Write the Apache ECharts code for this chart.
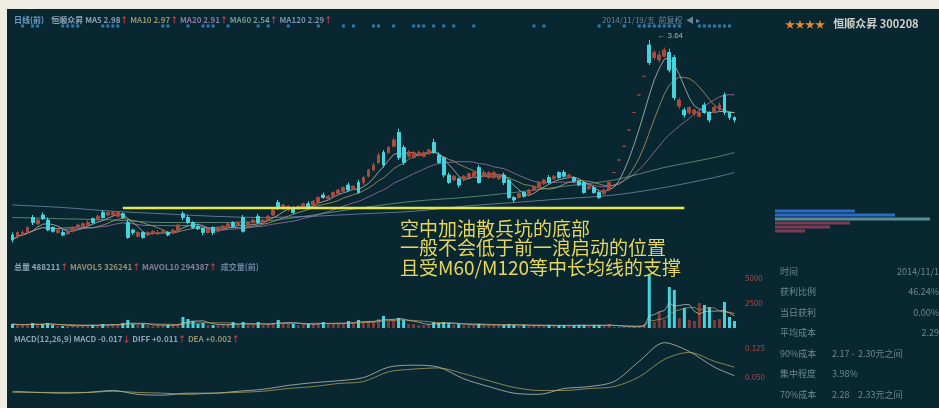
<!DOCTYPE html>
<html><head><meta charset="utf-8">
<script src="https://cdn.jsdelivr.net/npm/echarts@6/dist/echarts.min.js"></script>
<style>html,body{margin:0;padding:0;background:#efece4;}#c{width:939px;height:408px;}</style>
</head><body><div id="c"></div>
<script>
// ---- data ----
// [open, close, low, high]
const candles = [
[2.08,2.04,2.02,2.10],[2.07,2.10,2.05,2.11],[2.08,2.10,2.07,2.12],[2.10,2.14,2.09,2.15],[2.22,2.18,2.16,2.24],
[2.17,2.20,2.16,2.21],[2.24,2.21,2.20,2.26],[2.20,2.12,2.11,2.22],[2.14,2.11,2.10,2.15],[2.10,2.12,2.09,2.13],
[2.10,2.08,2.07,2.12],[2.09,2.11,2.08,2.12],[2.11,2.14,2.10,2.15],[2.14,2.16,2.13,2.17],[2.15,2.17,2.14,2.18],
[2.16,2.18,2.15,2.20],[2.21,2.18,2.17,2.22],[2.20,2.23,2.19,2.24],[2.26,2.22,2.21,2.28],[2.24,2.26,2.23,2.27],
[2.24,2.26,2.23,2.27],[2.23,2.26,2.22,2.27],[2.25,2.22,2.21,2.26],[2.18,2.06,2.05,2.20],[2.12,2.10,2.08,2.13],
[2.07,2.10,2.06,2.11],[2.10,2.06,2.05,2.11],[2.08,2.10,2.07,2.11],[2.09,2.11,2.08,2.12],[2.09,2.10,2.08,2.12],
[2.10,2.11,2.09,2.12],[2.10,2.08,2.07,2.11],[2.10,2.12,2.09,2.13],[2.12,2.16,2.11,2.17],[2.25,2.22,2.20,2.27],
[2.22,2.18,2.17,2.24],[2.18,2.14,2.13,2.19],[2.15,2.13,2.12,2.16],[2.13,2.10,2.08,2.14],[2.10,2.13,2.09,2.14],
[2.14,2.10,2.08,2.15],[2.11,2.14,2.10,2.15],[2.13,2.15,2.12,2.16],[2.14,2.17,2.13,2.18],[2.18,2.15,2.14,2.19],
[2.16,2.18,2.15,2.19],[2.22,2.11,2.10,2.24],[2.15,2.18,2.14,2.19],[2.18,2.20,2.17,2.21],[2.23,2.18,2.17,2.25],
[2.18,2.20,2.17,2.21],[2.20,2.23,2.19,2.24],[2.24,2.28,2.23,2.29],[2.34,2.30,2.28,2.36],[2.29,2.32,2.28,2.33],
[2.28,2.31,2.27,2.32],[2.30,2.26,2.25,2.31],[2.29,2.31,2.28,2.32],[2.30,2.33,2.29,2.34],[2.33,2.30,2.29,2.35],
[2.32,2.35,2.31,2.36],[2.34,2.38,2.33,2.39],[2.40,2.38,2.37,2.42],[2.37,2.39,2.36,2.40],[2.39,2.42,2.38,2.43],
[2.41,2.44,2.40,2.45],[2.43,2.46,2.42,2.47],[2.48,2.44,2.43,2.50],[2.45,2.47,2.44,2.48],[2.50,2.42,2.41,2.52],
[2.50,2.54,2.48,2.55],[2.55,2.60,2.54,2.61],[2.60,2.64,2.59,2.66],[2.66,2.72,2.65,2.74],[2.74,2.64,2.62,2.76],
[2.74,2.78,2.73,2.79],[2.79,2.84,2.78,2.86],[2.90,2.70,2.68,2.93],[2.78,2.66,2.64,2.80],[2.71,2.74,2.70,2.76],
[2.70,2.74,2.69,2.75],[2.72,2.74,2.71,2.76],[2.71,2.74,2.70,2.75],[2.73,2.76,2.72,2.77],[2.82,2.74,2.73,2.85],
[2.72,2.66,2.65,2.74],[2.70,2.56,2.54,2.71],[2.56,2.50,2.49,2.58],[2.52,2.55,2.51,2.56],[2.53,2.48,2.46,2.54],
[2.52,2.55,2.51,2.56],[2.54,2.57,2.53,2.58],[2.55,2.58,2.54,2.60],[2.62,2.50,2.49,2.64],[2.55,2.58,2.54,2.60],
[2.54,2.58,2.53,2.59],[2.54,2.58,2.53,2.59],[2.53,2.56,2.52,2.57],[2.56,2.50,2.48,2.58],[2.52,2.38,2.37,2.53],
[2.38,2.36,2.34,2.39],[2.38,2.41,2.37,2.42],[2.42,2.39,2.38,2.43],[2.41,2.44,2.40,2.45],[2.44,2.47,2.43,2.48],
[2.46,2.50,2.45,2.51],[2.49,2.52,2.48,2.53],[2.54,2.50,2.49,2.56],[2.53,2.55,2.52,2.56],[2.58,2.54,2.53,2.59],
[2.58,2.55,2.54,2.60],[2.54,2.56,2.53,2.57],[2.54,2.51,2.50,2.55],[2.51,2.48,2.47,2.52],[2.50,2.42,2.41,2.51],
[2.45,2.47,2.44,2.48],[2.46,2.42,2.41,2.47],[2.42,2.38,2.37,2.43],[2.41,2.44,2.40,2.45],[2.44,2.50,2.43,2.51],
[2.58,2.58,2.58,2.58],[2.68,2.68,2.68,2.68],[2.79,2.79,2.79,2.79],[2.92,2.92,2.92,2.92],[3.06,3.06,3.06,3.06],
[3.20,3.20,3.20,3.20],[3.35,3.35,3.35,3.35],[3.60,3.46,3.44,3.64],[3.50,3.54,3.48,3.56],[3.48,3.52,3.46,3.55],
[3.51,3.56,3.50,3.58],[3.54,3.40,3.38,3.57],[3.50,3.18,3.16,3.52],[3.11,3.16,3.09,3.18],[3.08,3.04,3.02,3.10],
[3.06,3.10,3.04,3.11],[3.05,3.08,3.03,3.09],[3.03,3.06,3.02,3.08],[3.12,3.06,3.05,3.14],[3.06,3.00,2.98,3.07],
[3.06,3.10,3.05,3.11],[3.08,3.12,3.07,3.14],[3.20,3.06,3.04,3.22],[3.06,3.02,3.00,3.07],[3.02,3.00,2.98,3.03]
];
const volumes = [
40000,30000,30000,40000,50000,30000,40000,50000,30000,20000,
20000,20000,30000,20000,30000,30000,30000,30000,40000,30000,
40000,30000,50000,80000,40000,30000,40000,30000,20000,30000,
30000,30000,30000,40000,110000,90000,70000,40000,50000,30000,
30000,30000,30000,40000,60000,30000,60000,30000,30000,60000,
30000,40000,50000,80000,50000,50000,40000,30000,40000,40000,
40000,50000,60000,40000,40000,50000,50000,70000,50000,80000,
60000,70000,70000,90000,120000,70000,80000,100000,80000,40000,
40000,30000,30000,40000,60000,50000,60000,50000,30000,40000,
30000,30000,30000,40000,30000,30000,30000,30000,30000,40000,
30000,20000,30000,20000,30000,30000,20000,30000,20000,30000,
30000,20000,30000,30000,30000,20000,30000,30000,20000,40000,
10000,10000,10000,10000,20000,20000,40000,530000,60000,160000,
80000,410000,380000,100000,200000,80000,70000,250000,230000,210000,
80000,90000,260000,110000,70000
];
// long moving averages read at sampled days
const longMaIdx = [0,10,20,30,40,50,60,70,80,90,100,110,120,130,140,144];
const ma60Vals  = [2.22,2.21,2.20,2.18,2.18,2.19,2.24,2.30,2.35,2.38,2.42,2.47,2.52,2.62,2.70,2.74];
const ma120Vals = [2.32,2.30,2.27,2.25,2.23,2.22,2.23,2.25,2.27,2.31,2.34,2.37,2.40,2.46,2.54,2.58];
// MACD lines read at sampled days
const macdIdx = [0,5,10,15,20,25,30,35,40,45,50,55,60,65,70,75,80,85,90,95,100,105,110,115,120,125,130,135,140,144];
const diffVals = [0.013,0.010,0.008,0.010,0.015,0.005,0.003,0.008,0.008,0.013,0.018,0.028,0.035,0.040,0.048,0.075,0.080,0.075,0.045,0.025,0.008,0.005,0.020,0.025,0.038,0.090,0.138,0.115,0.075,0.053];
const deaVals  = [0.010,0.010,0.010,0.010,0.013,0.010,0.008,0.005,0.008,0.010,0.013,0.020,0.025,0.033,0.038,0.063,0.070,0.073,0.058,0.040,0.023,0.015,0.015,0.020,0.025,0.050,0.095,0.113,0.090,0.075];
// signal marks along the top strip (day indices)
const signalIdx = [2,4,5,10,11,12,13,18,19,20,21,30,31,35,38,39,40,43,49,51,55,61,66,68,72,73,76,80,81,82,84,86,88,92,104,106,117,119,122,125,126,127,128,129,130,131,132,133,137,138,139,140,141,142,143];
// support line
const supportLevel = 2.30, supportFrom = 22, supportTo = 134;
// chip distribution (right panel)
const chipLevels = ['2.34','2.32','2.30','2.28','2.26','2.24'];
const chipAmounts = [80,120,155,75,55,30];
// texts
const annotation = ['空中加油散兵坑的底部','一般不会低于前一浪启动的位置','且受M60/M120等中长均线的支撑'];
const infoRows = [
  ['时间','','2014/11/1'],['获利比例','','46.24%'],['当日获利','','0.00%'],['平均成本','','2.29'],
  ['90%成本','2.17 -','2.30元之间'],['集中程度','3.98%',''],['70%成本','2.28','2.33元之间']
];

// ---- build ----
const N = candles.length;
const cats = candles.map((_, i) => 'D' + (i + 1));
const closes = candles.map(c => c[1]);
function movingAvg(src, n) {
  return src.map((_, i) => { const s = Math.max(0, i - n + 1); let t = 0; for (let k = s; k <= i; k++) t += src[k]; return +(t / (i - s + 1)).toFixed(3); });
}
function sparse(idx, vals) { const a = new Array(N).fill(null); idx.forEach((k, j) => { a[k] = vals[j]; }); return a; }
const UP = '#a84a3c', DOWN = '#45d4de';
const FONT = '"Noto Sans CJK SC","Noto Sans",sans-serif';
const L = 10, W = 727;

const chart = echarts.init(document.getElementById('c'));
const xa = (gi) => ({ type: 'category', data: cats, gridIndex: gi, show: false, boundaryGap: true });
const lineS = (name, data, color, xi, extra) => Object.assign({ name, type: 'line', data, xAxisIndex: xi, yAxisIndex: xi, symbol: 'none', showSymbol: false, silent: true, lineStyle: { color, width: 1, opacity: 0.7 }, z: 3 }, extra || {});
const isUp = (i) => candles[i][1] > candles[i][0] || (candles[i][1] === candles[i][0] && i > 0 && candles[i][1] >= candles[i - 1][1]);

const option = {
  backgroundColor: '#082731',
  animation: false,
  grid: [
    { left: L, width: W, top: 21, height: 10 },
    { left: L, width: W, top: 30, height: 215 },
    { left: L, width: W, top: 270, height: 58 },
    { left: L, width: W, top: 338, height: 68 },
    { left: 775, width: 160, top: 209, height: 24 }
  ],
  xAxis: [xa(0), xa(1), xa(2), xa(3), { type: 'value', gridIndex: 4, min: 0, max: 160, show: false }],
  yAxis: [
    { type: 'value', gridIndex: 0, min: 0, max: 1, show: false },
    { type: 'value', gridIndex: 1, min: 2.0, max: 3.72, show: false },
    { type: 'value', gridIndex: 2, min: 0, max: 580000, interval: 250000, position: 'right',
      axisLine: { show: false }, axisTick: { show: false }, splitLine: { show: false },
      axisLabel: { color: '#a84848', fontSize: 8, showMinLabel: false, showMaxLabel: false, fontFamily: FONT, formatter: v => String(v / 100) } },
    { type: 'value', gridIndex: 3, min: -0.025, max: 0.15, interval: 0.025, position: 'right',
      axisLine: { show: false }, axisTick: { show: false }, splitLine: { show: false },
      axisLabel: { color: '#a84848', fontSize: 8, showMinLabel: false, showMaxLabel: false, fontFamily: FONT,
        formatter: v => (Math.abs(v - 0.05) < 1e-6 || Math.abs(v - 0.125) < 1e-6) ? v.toFixed(3) : '' } },
    { type: 'category', gridIndex: 4, data: chipLevels, inverse: true, show: false }
  ],
  title: [
    { left: 9, top: 11, text: '{b|日线(前)}    {w|恒顺众昇} {w|MA5 2.98}{r|↑} {y|MA10 2.97}{r|↑} {m|MA20 2.91}{r|↑} {g|MA60 2.54}{r|↑} {p|MA120 2.29}{r|↑}',
      textStyle: { fontSize: 8, fontFamily: FONT, rich: {
        b: { color: '#6f9cc8', fontSize: 8 }, w: { color: '#8fa4b8', fontSize: 8 }, r: { color: '#d04040', fontSize: 8 },
        y: { color: '#98906c', fontSize: 8 }, m: { color: '#8c7ca0', fontSize: 8 }, g: { color: '#74988a', fontSize: 8 }, p: { color: '#8290ac', fontSize: 8 } } } },
    { left: 597, top: 11, text: '2014/11/19/五  前复权  ◀ ▸', textStyle: { fontSize: 8, color: '#6c84a0', fontFamily: FONT, fontWeight: 'normal' } },
    { left: 780, top: 10, text: '{s|★★★★}  {n|恒顺众昇 300208}', textStyle: { fontFamily: FONT, rich: {
        s: { color: '#e8862a', fontSize: 10 }, n: { color: '#d0d0c8', fontSize: 11 } } } },
    { left: 9, top: 258, text: '{w|总量 488211}{r|↑} {y|MAVOL5 326241}{r|↑} {m|MAVOL10 294387}{r|↑}  {b|成交量(前)}',
      textStyle: { fontSize: 8, fontFamily: FONT, rich: {
        w: { color: '#8fa4b8', fontSize: 8 }, r: { color: '#d04040', fontSize: 8 }, y: { color: '#98906c', fontSize: 8 },
        m: { color: '#8c7ca0', fontSize: 8 }, b: { color: '#6c84a0', fontSize: 8 } } } },
    { left: 9, top: 330, text: '{w|MACD(12,26,9) MACD -0.017}{r|↓} {w|DIFF +0.011}{r|↑} {y|DEA +0.002}{r|↑}',
      textStyle: { fontSize: 8, fontFamily: FONT, rich: {
        w: { color: '#8fa4b8', fontSize: 8 }, r: { color: '#d04040', fontSize: 8 }, y: { color: '#98906c', fontSize: 8 } } } }
  ],
  series: [
    { name: 'signal', type: 'scatter', xAxisIndex: 0, yAxisIndex: 0, symbol: 'rect', symbolSize: [3, 3],
      itemStyle: { color: '#3a8ed0' }, data: signalIdx.map(i => [cats[i], 0.5]), silent: true },
    { name: 'K', type: 'candlestick', xAxisIndex: 1, yAxisIndex: 1, data: candles, barWidth: 3.4, z: 4,
      itemStyle: { color: UP, color0: DOWN, borderColor: UP, borderColor0: DOWN, borderWidth: 1 },
      markLine: { silent: true, symbol: ['none', 'none'], label: { show: false },
        lineStyle: { color: '#e4e64a', width: 2.4, type: 'solid', opacity: 1 },
        data: [[{ coord: [cats[supportFrom], supportLevel] }, { coord: [cats[supportTo], supportLevel] }]] },
      markPoint: { silent: true, symbol: 'circle', symbolSize: 0,
        label: { show: true, position: 'right', offset: [3, -4], color: '#a8b0b8', fontSize: 8, formatter: '← 3.64' },
        data: [{ type: 'max', valueDim: 'highest' }] } },
    lineS('MA5', movingAvg(closes, 5), '#d4d4cc', 1),
    lineS('MA10', movingAvg(closes, 10), '#c8aa6c', 1),
    lineS('MA20', movingAvg(closes, 20), '#b47cb4', 1),
    lineS('MA60', sparse(longMaIdx, ma60Vals), '#78a88c', 1, { connectNulls: true, smooth: 0.3 }),
    lineS('MA120', sparse(longMaIdx, ma120Vals), '#8494b8', 1, { connectNulls: true, smooth: 0.3 }),
    { name: 'VOL', type: 'bar', xAxisIndex: 2, yAxisIndex: 2, barWidth: 3, silent: true,
      data: volumes.map((v, i) => ({ value: v, itemStyle: { color: isUp(i) ? '#7c3c3a' : DOWN } })) },
    lineS('MAVOL5', movingAvg(volumes, 5), '#d0d0c8', 2),
    lineS('MAVOL10', movingAvg(volumes, 10), '#c0a060', 2),
    lineS('DIFF', sparse(macdIdx, diffVals), '#d0d0c8', 3, { connectNulls: true, smooth: 0.3 }),
    lineS('DEA', sparse(macdIdx, deaVals), '#c0ac60', 3, { connectNulls: true, smooth: 0.3 }),
    { name: 'chip', type: 'bar', xAxisIndex: 4, yAxisIndex: 4, barWidth: 3, silent: true,
      data: chipAmounts.map((v, i) => ({ value: v, itemStyle: { color: i < 2 ? '#2a6cc8' : (i === 2 ? '#5a8c98' : '#7a3c54') } })) }
  ],
  graphic: [
    { type: 'rect', z: 100, shape: { x: 0, y: 0, width: 939, height: 9 }, style: { fill: '#efece4' } },
    { type: 'rect', z: 100, shape: { x: 0, y: 0, width: 7, height: 408 }, style: { fill: '#efece4' } },
    { type: 'text', z: 50, x: 400, y: 219, style: { text: annotation.join('\n'), font: '19px ' + FONT, fill: '#e6d65c', lineHeight: 19.5 } }
  ].concat(infoRows.flatMap((r, k) => {
    const y = 267 + k * 20.5;
    const out = [{ type: 'text', z: 50, x: 780, y, style: { text: r[0], font: '9px ' + FONT, fill: '#6a8892' } }];
    if (r[1]) out.push({ type: 'text', z: 50, x: 832, y, style: { text: r[1], font: '9px ' + FONT, fill: '#6a8892' } });
    if (r[2]) out.push({ type: 'text', z: 50, x: k >= 4 ? 858 : 939, y, style: { text: r[2], font: '9px ' + FONT, fill: '#6a8892', textAlign: k >= 4 ? 'left' : 'right' } });
    return out;
  }))
};
chart.setOption(option);
</script>
</body></html>
